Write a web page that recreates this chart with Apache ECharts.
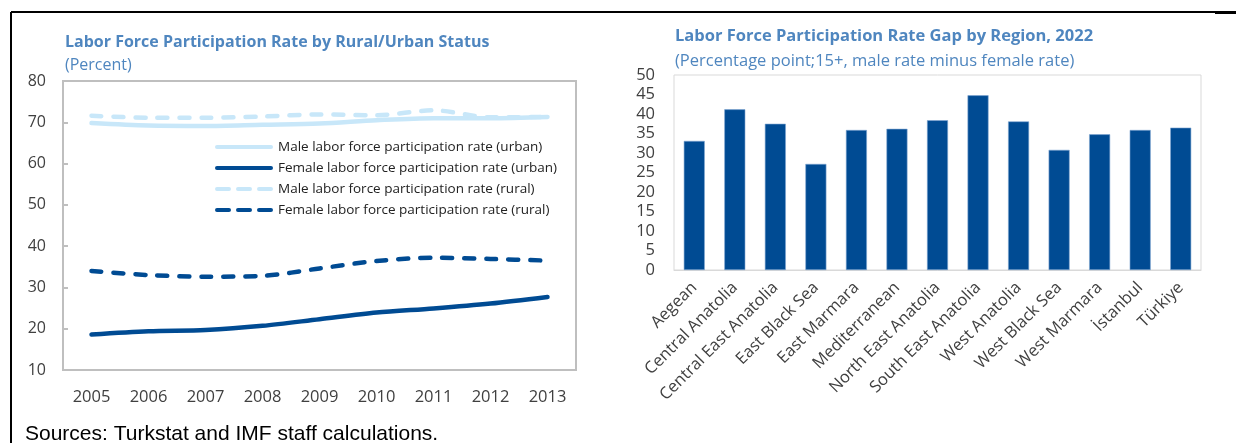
<!DOCTYPE html>
<html>
<head>
<meta charset="utf-8">
<script src="https://cdn.jsdelivr.net/npm/echarts@6/dist/echarts.min.js"></script>
<style>
  html, body { margin: 0; padding: 0; background: #fff; }
  #chart { width: 1236px; height: 443px; }
</style>
</head>
<body>
<div id="chart"></div>
<script>
// data
var years = ['2005', '2006', '2007', '2008', '2009', '2010', '2011', '2012', '2013'];
var maleUrban = [69.8, 69.2, 69.1, 69.4, 69.7, 70.5, 71.0, 71.0, 71.3];
var femaleUrban = [18.6, 19.4, 19.7, 20.7, 22.3, 23.9, 24.9, 26.1, 27.7];
var maleRural = [71.6, 71.1, 71.1, 71.4, 71.9, 71.7, 72.9, 71.2, 71.3];
var femaleRural = [34.0, 33.0, 32.6, 32.8, 34.6, 36.4, 37.2, 36.9, 36.5];

var regions = ['Aegean', 'Central Anatolia', 'Central East Anatolia', 'East Black Sea', 'East Marmara',
  'Mediterranean', 'North East Anatolia', 'South East Anatolia', 'West Anatolia', 'West Black Sea',
  'West Marmara', 'İstanbul', 'Türkiye'];
var gap = [33.1, 41.2, 37.5, 27.2, 35.9, 36.2, 38.4, 44.8, 38.1, 30.8, 34.8, 35.9, 36.5];

var lightBlue = '#c8e7f9';
var darkBlue = '#004b93';
var titleBlue = '#4f86bf';
var font = 'Open Sans';

// legend icons: a solid stroke and a three-dash stroke
var solidIcon = 'path://M2,0h54a2,2 0 0 1 0,4h-54a2,2 0 0 1 0,-4z';
var dashIcon = 'path://M2,0h12a2,2 0 0 1 0,4h-12a2,2 0 0 1 0,-4z M23,0h12a2,2 0 0 1 0,4h-12a2,2 0 0 1 0,-4z M44,0h12a2,2 0 0 1 0,4h-12a2,2 0 0 1 0,-4z';

var myChart = echarts.init(document.getElementById('chart'));

var option = {
    backgroundColor: '#fff',
    animation: false,
    textStyle: { fontFamily: font },
    title: [{
        text: 'Labor Force Participation Rate by Rural/Urban Status',
        subtext: '(Percent)',
        left: 65, top: 34, padding: 0, itemGap: 7,
        textStyle: { color: titleBlue, fontSize: 16, fontWeight: 'bold', fontFamily: font },
        subtextStyle: { color: titleBlue, fontSize: 16, fontFamily: font }
    }, {
        text: 'Labor Force Participation Rate Gap by Region, 2022',
        subtext: '(Percentage point;15+, male rate minus female rate)',
        left: 675, top: 28, padding: 0, itemGap: 8,
        textStyle: { color: titleBlue, fontSize: 16.5, fontWeight: 'bold', fontFamily: font },
        subtextStyle: { color: titleBlue, fontSize: 16.5, fontFamily: font }
    }, {
        text: 'Sources: Turkstat and IMF staff calculations.',
        left: 25, top: 424, padding: 0,
        textStyle: { color: '#000', fontSize: 21, fontWeight: 'normal', fontFamily: 'Liberation Sans' }
    }],
    legend: {
        orient: 'vertical',
        left: 210, top: 133,
        itemWidth: 58, itemHeight: 5, itemGap: 3,
        textStyle: { fontSize: 13.5, lineHeight: 18, color: '#222', fontFamily: font },
        data: [
            { name: 'Male labor force participation rate (urban)', icon: solidIcon },
            { name: 'Female labor force participation rate (urban)', icon: solidIcon },
            { name: 'Male labor force participation rate (rural)', icon: dashIcon },
            { name: 'Female labor force participation rate (rural)', icon: dashIcon }
        ]
    },
    grid: [{
        left: 63, top: 81, right: 660, bottom: 73,
        show: true, borderColor: '#bfbfbf', borderWidth: 2, containLabel: false
    }, {
        left: 674, top: 75, right: 35, bottom: 173,
        show: true, borderColor: '#d9d9d9', borderWidth: 1, containLabel: false
    }],
    xAxis: [{
        gridIndex: 0,
        type: 'category',
        data: years,
        boundaryGap: true,
        axisLine: { lineStyle: { color: '#bfbfbf', width: 2 } },
        axisTick: { inside: true, length: 5, lineStyle: { color: '#bfbfbf', width: 2 } },
        axisLabel: { color: '#404040', fontSize: 16.5, margin: 19, fontFamily: font }
    }, {
        gridIndex: 1,
        type: 'category',
        data: regions,
        axisLine: { lineStyle: { color: '#d9d9d9' } },
        axisTick: { show: false },
        axisLabel: { color: '#404040', fontSize: 16.5, rotate: 45, interval: 0, margin: 15, fontFamily: font }
    }],
    yAxis: [{
        gridIndex: 0,
        type: 'value',
        min: 10, max: 80, interval: 10,
        axisLine: { show: true, lineStyle: { color: '#bfbfbf', width: 2 } },
        axisTick: { show: true, inside: true, length: 5, lineStyle: { color: '#bfbfbf', width: 2 } },
        splitLine: { show: false },
        axisLabel: { color: '#404040', fontSize: 16, margin: 17, fontFamily: font }
    }, {
        gridIndex: 1,
        type: 'value',
        min: 0, max: 50, interval: 5,
        axisLine: { show: false },
        axisTick: { show: false },
        splitLine: { show: false },
        axisLabel: { color: '#404040', fontSize: 16.5, margin: 19, fontFamily: font }
    }],
    series: [{
        name: 'Male labor force participation rate (urban)',
        type: 'line', xAxisIndex: 0, yAxisIndex: 0,
        data: maleUrban, smooth: 0.3, symbol: 'none',
        itemStyle: { color: lightBlue },
        lineStyle: { color: lightBlue, width: 4.5, cap: 'round' }
    }, {
        name: 'Female labor force participation rate (urban)',
        type: 'line', xAxisIndex: 0, yAxisIndex: 0,
        data: femaleUrban, smooth: 0.3, symbol: 'none',
        itemStyle: { color: darkBlue },
        lineStyle: { color: darkBlue, width: 4.5, cap: 'round' }
    }, {
        name: 'Male labor force participation rate (rural)',
        type: 'line', xAxisIndex: 0, yAxisIndex: 0,
        data: maleRural, smooth: 0.3, symbol: 'none',
        itemStyle: { color: lightBlue },
        lineStyle: { color: lightBlue, width: 4.5, type: [10, 12], cap: 'round' }
    }, {
        name: 'Female labor force participation rate (rural)',
        type: 'line', xAxisIndex: 0, yAxisIndex: 0,
        data: femaleRural, smooth: 0.3, symbol: 'none',
        itemStyle: { color: darkBlue },
        lineStyle: { color: darkBlue, width: 4.5, type: [10, 12], cap: 'round' }
    }, {
        name: 'Gap',
        type: 'bar', xAxisIndex: 1, yAxisIndex: 1,
        data: gap,
        barWidth: 21,
        itemStyle: { color: darkBlue, borderColor: '#7fa6d1', borderWidth: 0.6 }
    }],
    graphic: [{
        type: 'line', silent: true,
        shape: { x1: 11, y1: 12, x2: 1236, y2: 12 },
        style: { stroke: '#000', lineWidth: 2 }
    }, {
        type: 'line', silent: true,
        shape: { x1: 11, y1: 12, x2: 11, y2: 443 },
        style: { stroke: '#000', lineWidth: 2 }
    }, {
        type: 'line', silent: true,
        shape: { x1: 1215, y1: 12.5, x2: 1236, y2: 12.5 },
        style: { stroke: '#000', lineWidth: 3 }
    }]
};

myChart.setOption(option);
</script>
</body>
</html>
